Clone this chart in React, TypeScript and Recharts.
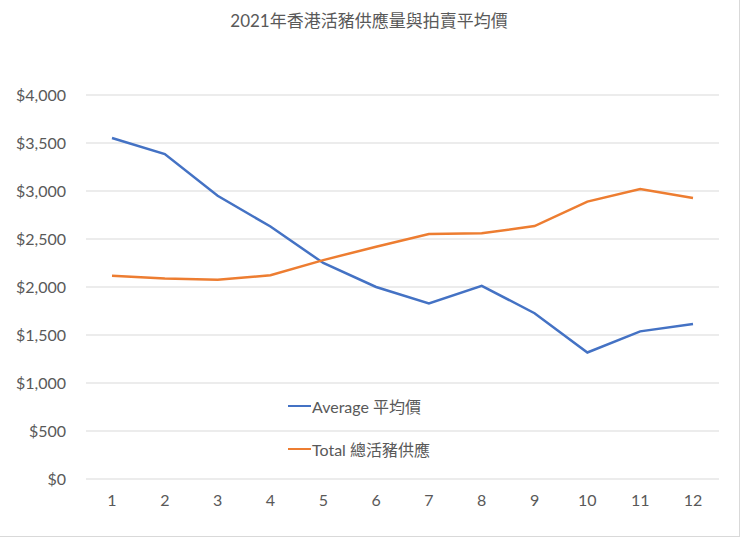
import { CartesianGrid, Line, LineChart, XAxis, YAxis } from "recharts";

const months = ["1", "2", "3", "4", "5", "6", "7", "8", "9", "10", "11", "12"];
const avgPrice = [3552, 3385, 2950, 2630, 2250, 2000, 1828, 2012, 1727, 1318, 1538, 1615];
const totalSupply = [2118, 2088, 2075, 2122, 2280, 2420, 2552, 2559, 2635, 2889, 3021, 2927];
const yTicks = [0, 500, 1000, 1500, 2000, 2500, 3000, 3500, 4000];

const FONT = "Lato, 'Noto Sans CJK TC', sans-serif";
const TEXT = "#595959";
const BLUE = "#4472C4";
const ORANGE = "#ED7D31";

const data = months.map((m, i) => ({
  month: m,
  avg: avgPrice[i],
  total: totalSupply[i],
}));

const legendItems = [
  { key: "avg", label: "Average 平均價", color: BLUE },
  { key: "total", label: "Total 總活豬供應", color: ORANGE },
];

// legend sits inside the plot, like the Excel original
function ChartLegend() {
  return (
    <div
      style={{
        position: "absolute",
        left: 288,
        top: 395,
        fontFamily: FONT,
        fontSize: 16,
        color: TEXT,
      }}
    >
      {legendItems.map((it) => (
        <div
          key={it.key}
          style={{ display: "flex", alignItems: "center", height: 22, marginBottom: 21 }}
        >
          <span
            style={{ width: 23, height: 2.5, background: it.color, display: "inline-block", marginRight: 1 }}
          />
          {it.label}
        </div>
      ))}
    </div>
  );
}

export default function App() {
  return (
    <div
      style={{
        position: "absolute",
        left: 0,
        top: 0,
        width: 740,
        height: 537,
        boxSizing: "border-box",
        borderRight: "1px solid #d9d9d9",
        borderBottom: "1px solid #d9d9d9",
        background: "#fff",
      }}
    >
      <div
        style={{
          position: "absolute",
          top: 7,
          left: 0,
          width: 738,
          textAlign: "center",
          fontFamily: FONT,
          fontSize: 17,
          color: TEXT,
        }}
      >
        2021年香港活豬供應量與拍賣平均價
      </div>
      <LineChart
        width={740}
        height={537}
        data={data}
        margin={{ top: 95, right: 21, bottom: 0, left: 0 }}
      >
        <CartesianGrid vertical={false} stroke="#d9d9d9" strokeWidth={1} />
        <XAxis
          dataKey="month"
          axisLine={false}
          tickLine={false}
          tickSize={0}
          tickMargin={16}
          height={58}
          padding={{ left: 26, right: 26 }}
          tick={{ fill: TEXT, fontSize: 16, fontFamily: FONT }}
        />
        <YAxis
          domain={[0, 4000]}
          ticks={yTicks}
          width={86}
          axisLine={false}
          tickLine={false}
          tickSize={0}
          tickMargin={20}
          tickFormatter={(v: number) => `$${v.toLocaleString("en-US")}`}
          tick={{ fill: TEXT, fontSize: 16, fontFamily: FONT }}
        />
        <Line
          type="linear"
          dataKey="avg"
          stroke={BLUE}
          strokeWidth={2.5}
          dot={false}
          isAnimationActive={false}
        />
        <Line
          type="linear"
          dataKey="total"
          stroke={ORANGE}
          strokeWidth={2.5}
          dot={false}
          isAnimationActive={false}
        />
      </LineChart>
      <ChartLegend />
    </div>
  );
}
